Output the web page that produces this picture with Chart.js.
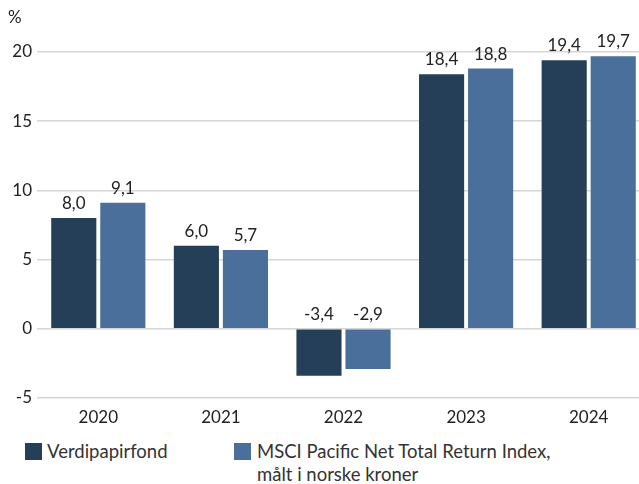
<!DOCTYPE html>
<html>
<head>
<meta charset="utf-8">
<script src="https://cdn.jsdelivr.net/npm/chart.js@4"></script>
<style>
  html, body { margin: 0; padding: 0; background: #fff; overflow: hidden; width: 639px; height: 484px; }
  #wrap { position: relative; width: 639px; height: 484px; overflow: hidden; font-family: Lato, "Noto Sans", sans-serif; color: #222; }
  #c { position: absolute; left: 0; top: 0; }
  #unit { position: absolute; left: 8px; top: 5px; font-size: 17px; line-height: 24px; }
  .leg { position: absolute; font-size: 18.5px; line-height: 23px; color: #333; }
  .box { position: absolute; width: 17px; height: 17px; }
</style>
</head>
<body>
<div id="wrap">
  <canvas id="c" width="650" height="430"></canvas>
  <div id="unit">%</div>
  <div id="legend"></div>
</div>
<script>
const categories = ['2020', '2021', '2022', '2023', '2024'];
const fundValues = [8.0, 6.0, -3.4, 18.4, 19.4];
const indexValues = [9.1, 5.7, -2.9, 18.8, 19.7];
const seriesNames = ['Verdipapirfond', ['MSCI Pacific Net Total Return Index,', 'målt i norske kroner']];
const seriesColors = ['#243f57', '#4a6f9b'];
const yTicks = [-5, 0, 5, 10, 15, 20];

const fmt = v => v.toFixed(1).replace('.', ',');

const labelPlugin = {
  id: 'valueLabels',
  afterDatasetsDraw(chart) {
    const ctx = chart.ctx;
    const y0 = chart.scales.y.getPixelForValue(0);
    ctx.save();
    ctx.font = '17px Lato, "Noto Sans", sans-serif';
    ctx.fillStyle = '#222';
    ctx.textAlign = 'center';
    ctx.textBaseline = 'bottom';
    chart.data.datasets.forEach((ds, i) => {
      const meta = chart.getDatasetMeta(i);
      meta.data.forEach((el, j) => {
        const v = ds.data[j];
        const y = v >= 0 ? el.y : y0;
        ctx.fillText(fmt(v), el.x, y - 6);
      });
    });
    ctx.restore();
  }
};

const legend = document.getElementById('legend');
const legPos = [{box: 25, text: 47}, {box: 234, text: 257}];
seriesNames.forEach((n, i) => {
  const b = document.createElement('div');
  b.className = 'box';
  b.style.left = legPos[i].box + 'px';
  b.style.top = '443px';
  b.style.background = seriesColors[i];
  legend.appendChild(b);
  const t = document.createElement('div');
  t.className = 'leg';
  t.style.left = legPos[i].text + 'px';
  t.style.top = '440px';
  t.innerHTML = (Array.isArray(n) ? n : [n]).join('<br>');
  legend.appendChild(t);
});

new Chart(document.getElementById('c'), {
  type: 'bar',
  data: {
    labels: categories,
    datasets: [
      { label: 'Verdipapirfond', data: fundValues, backgroundColor: seriesColors[0], categoryPercentage: 0.8, barPercentage: 0.92 },
      { label: 'MSCI Pacific Net Total Return Index, målt i norske kroner', data: indexValues, backgroundColor: seriesColors[1], categoryPercentage: 0.8, barPercentage: 0.92 }
    ]
  },
  options: {
    responsive: false,
    animation: false,
    layout: { padding: { top: 52, right: 0, left: 0, bottom: 0 } },
    plugins: { legend: { display: false }, tooltip: { enabled: false } },
    scales: {
      x: {
        grid: { display: false, drawTicks: false },
        border: { display: false },
        ticks: { color: '#222', font: { family: 'Lato, "Noto Sans", sans-serif', size: 17 }, padding: 9 },
        afterFit(s) { s.height = 32; }
      },
      y: {
        min: -5, max: 20,
        grid: { color: '#d6d6d6', lineWidth: 1.5, drawTicks: false },
        border: { display: false },
        afterBuildTicks(s) { s.ticks = yTicks.map(v => ({ value: v })); },
        ticks: { color: '#222', font: { family: 'Lato, "Noto Sans", sans-serif', size: 17 }, padding: 5 },
        afterFit(s) { s.width = 37; }
      }
    }
  },
  plugins: [labelPlugin]
});
</script>
</body>
</html>
